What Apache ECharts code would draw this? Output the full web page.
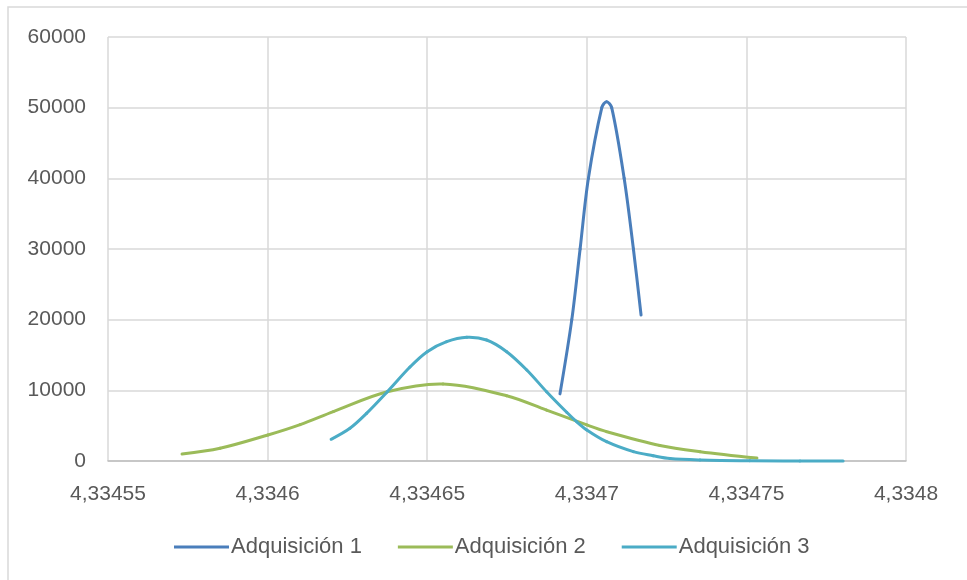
<!DOCTYPE html>
<html>
<head>
<meta charset="utf-8">
<script src="https://cdn.jsdelivr.net/npm/echarts@6/dist/echarts.min.js"></script>
<style>
  html, body { margin: 0; padding: 0; background: #ffffff; }
  #chart { width: 967px; height: 580px; }
</style>
</head>
<body>
<div id="chart"></div>
<script>
// Axis ticks
const xTicks = [4.33455, 4.3346, 4.33465, 4.3347, 4.33475, 4.3348];
const yTicks = [0, 10000, 20000, 30000, 40000, 50000, 60000];

const seriesNames = ['Adquisición 1', 'Adquisición 2', 'Adquisición 3'];

// Adquisición 1
const x1 = [4.3346916, 4.3346953, 4.3346979, 4.3347005, 4.3347047, 4.3347062, 4.3347078, 4.3347117, 4.3347146, 4.3347170];
const y1 = [9500, 20000, 30000, 40000, 50000, 50840, 50000, 40000, 30000, 20660];

// Adquisición 2
const x2 = [4.3345732, 4.3345851, 4.3346001, 4.3346102, 4.3346206, 4.3346375, 4.3346550, 4.3346749, 4.3346874, 4.3347, 4.3347062, 4.3347229, 4.3347355, 4.3347533];
const y2 = [990, 1800, 3680, 5150, 7000, 9800, 10900, 9240, 7200, 5100, 4150, 2200, 1320, 420];

// Adquisición 3
const x3 = [4.3346199, 4.3346258, 4.3346310, 4.3346375, 4.3346446, 4.3346500, 4.3346561, 4.3346624, 4.3346686, 4.3346749, 4.3346812, 4.3346874, 4.3346937, 4.3346968, 4.3347, 4.3347062, 4.3347146, 4.3347208, 4.3347261, 4.3347355, 4.3347511, 4.3347668, 4.3347803];
const y3 = [3070, 4630, 6740, 9800, 13300, 15470, 16880, 17500, 17120, 15470, 12880, 9800, 6890, 5560, 4390, 2730, 1320, 750, 350, 150, 40, 10, 0];

const colors = ['#4a7ebb', '#9bbb59', '#4bacc6'];

function pairs(xs, ys) {
  return xs.map((x, i) => [x, ys[i]]);
}

function fmtX(v) {
  return String(Number(v.toFixed(5))).replace('.', ',');
}

function fmtY(v) {
  return String(Math.round(v));
}

function dist(a, b) {
  return Math.hypot(b[0] - a[0], b[1] - a[1]) || 1e-6;
}

// Scatter-with-smooth-lines series: every item draws the spline segment
// from its point to the next one (chord-length Catmull-Rom tangents),
// positioned through the axes.
function smoothScatter(name, xs, ys, color) {
  const data = pairs(xs, ys);
  const n = data.length;
  return {
    type: 'custom',
    name: name,
    data: data,
    encode: { x: 0, y: 1 },
    itemStyle: { color: color },
    renderItem: function (params, api) {
      const i = params.dataIndex;
      if (i >= n - 1) return null;
      const p0 = api.coord(data[Math.max(i - 1, 0)]);
      const p1 = api.coord(data[i]);
      const p2 = api.coord(data[i + 1]);
      const p3 = api.coord(data[Math.min(i + 2, n - 1)]);
      const d01 = dist(p0, p1), d12 = dist(p1, p2), d23 = dist(p2, p3);
      const k1 = i === 0 ? 0 : d12 / (d01 + d12) / 3;
      const k2 = i + 2 > n - 1 ? 0 : d12 / (d12 + d23) / 3;
      return {
        type: 'bezierCurve',
        shape: {
          x1: p1[0], y1: p1[1],
          cpx1: p1[0] + (p2[0] - p0[0]) * k1, cpy1: p1[1] + (p2[1] - p0[1]) * k1,
          cpx2: p2[0] - (p3[0] - p1[0]) * k2, cpy2: p2[1] - (p3[1] - p1[1]) * k2,
          x2: p2[0], y2: p2[1]
        },
        style: { stroke: color, lineWidth: 3, fill: 'none', lineCap: 'round' },
        silent: true
      };
    }
  };
}

const chart = echarts.init(document.getElementById('chart'), null, { renderer: 'canvas' });

const fontFamily = 'Liberation Sans, Arial, sans-serif';
const gridLine = { lineStyle: { color: '#d9d9d9', width: 1.5 } };

chart.setOption({
  animation: false,
  backgroundColor: '#ffffff',
  color: colors,
  graphic: [{
    type: 'rect',
    shape: { x: 8, y: 7, width: 980, height: 600 },
    style: { fill: 'none', stroke: '#d9d9d9', lineWidth: 1.5 },
    silent: true
  }],
  grid: { left: 108, right: 61, top: 37, bottom: 119, containLabel: false },
  xAxis: {
    type: 'value',
    min: xTicks[0],
    max: xTicks[xTicks.length - 1],
    interval: 0.00005,
    axisLine: { show: true, lineStyle: { color: '#bfbfbf', width: 1.5 } },
    axisTick: { show: false },
    splitLine: Object.assign({ show: true }, gridLine),
    axisLabel: { margin: 23, formatter: fmtX, color: '#595959', fontSize: 21, fontFamily: fontFamily }
  },
  yAxis: {
    type: 'value',
    min: yTicks[0],
    max: yTicks[yTicks.length - 1],
    interval: 10000,
    axisLine: { show: false },
    axisTick: { show: false },
    splitLine: Object.assign({ show: true }, gridLine),
    axisLabel: { margin: 22, formatter: fmtY, color: '#595959', fontSize: 21, fontFamily: fontFamily }
  },
  legend: {
    top: 536,
    left: 174,
    padding: 0,
    itemWidth: 55,
    itemHeight: 3,
    itemGap: 36,
    icon: 'rect',
    textStyle: { padding: [0, 0, 0, -3], color: '#595959', fontSize: 22, fontFamily: fontFamily },
    data: seriesNames.map((n, i) => ({ name: n, itemStyle: { color: colors[i] } }))
  },
  series: [
    smoothScatter(seriesNames[0], x1, y1, colors[0]),
    smoothScatter(seriesNames[1], x2, y2, colors[1]),
    smoothScatter(seriesNames[2], x3, y3, colors[2])
  ]
});
</script>
</body>
</html>
